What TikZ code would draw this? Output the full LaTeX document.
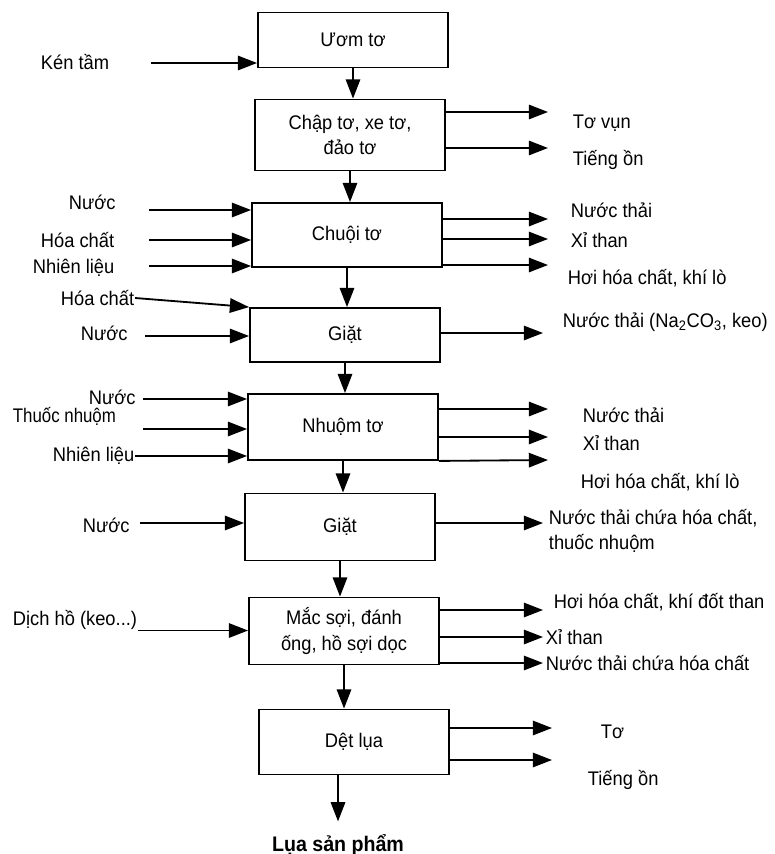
\documentclass[tikz,border=0pt]{standalone}
\usepackage{fontspec}
\setmainfont{Liberation Sans}[FakeStretch=0.93]
\usetikzlibrary{arrows.meta,positioning}
\tikzset{font=\fontsize{14}{18}\selectfont}
\tikzstyle{proc}=[draw,line width=1.3pt,minimum width=4.75cm,align=center,inner sep=2pt]
\tikzstyle{lbl}=[anchor=west,inner sep=0pt,align=left]

\begin{document}
\begin{tikzpicture}[x=0.025cm,y=-0.025cm,line width=1.3pt,>={Triangle[length=0.48cm,width=0.36cm]}]
\useasboundingbox (0,0) rectangle (775,854);

% cac cong doan
\node[proc,minimum height=1.375cm] (B1) at (353,40) {Ươm tơ};
\node[proc,minimum height=1.775cm] (B2) at (350,135) {Chập tơ, xe tơ,\\đảo tơ};
\node[proc,minimum height=1.6cm] (B3) at (347,235) {Chuội tơ};
\node[proc,minimum height=1.35cm] (B4) at (345,335) {Giặt};
\node[proc,minimum height=1.65cm] (B5) at (343,427) {Nhuộm tơ};
\node[proc,minimum height=1.675cm] (B6) at (340,527) {Giặt};
\node[proc,minimum height=1.675cm] (B7) at (344,631) {Mắc sợi, đánh\\ống, hồ sợi dọc};
\node[proc,minimum height=1.625cm] (B8) at (354,742) {Dệt lụa};
\node[font=\fontsize{15}{18}\selectfont\bfseries,inner sep=0pt] (lua) at (338,845) {Lụa sản phẩm};

% dau vao
\node[lbl] (ken) at (40,62) {Kén tầm};
\node[lbl] (nuoc3) at (68,202) {Nước};
\node[lbl] (hc3) at (40,240) {Hóa chất};
\node[lbl] (nl3) at (32,268) {Nhiên liệu};
\node[lbl] (hc4) at (60,298) {Hóa chất};
\node[lbl] (nuoc4) at (80,333) {Nước};
\node[lbl] (nuoc5) at (88,397) {Nước};
\node[lbl] (tn5) at (12,416) {\scalebox{0.92}[1]{Thuốc nhuộm}};
\node[lbl] (nl5) at (52,456) {Nhiên liệu};
\node[lbl] (nuoc6) at (82,525) {Nước};
\node[lbl] (dich) at (12,620) {Dịch hồ (keo...)};

\coordinate (i1) at (151,63);
\coordinate (i3a) at (149,210);
\coordinate (i3b) at (149,240);
\coordinate (i3c) at (149,266);
\coordinate (i4) at (145,336);
\coordinate (i5a) at (143,399);
\coordinate (i5b) at (143,429);
\coordinate (i6) at (140,523);

% dau ra
\node[lbl] (vun) at (572,123) {Tơ vụn};
\node[lbl] (on2) at (572,160) {Tiếng ồn};
\node[lbl] (nt3) at (570,210) {Nước thải};
\node[lbl] (xi3) at (570,240) {Xỉ than};
\node[lbl] (hoi3) at (567,278) {Hơi hóa chất, khí lò};
\node[lbl] (nt4) at (562,322) {Nước thải (Na\textsubscript{2}CO\textsubscript{3}, keo)};
\node[lbl] (nt5) at (582,415) {Nước thải};
\node[lbl] (xi5) at (582,443) {Xỉ than};
\node[lbl] (hoi5) at (580,482) {Hơi hóa chất, khí lò};
\node[lbl] (nt6) at (548,531) {Nước thải chứa hóa chất,\\thuốc nhuộm};
\node[lbl] (hoi7) at (553,602) {Hơi hóa chất, khí đốt than};
\node[lbl] (xi7) at (545,637) {Xỉ than};
\node[lbl] (nt7) at (545,663) {Nước thải chứa hóa chất};
\node[lbl] (to8) at (600,732) {Tơ};
\node[lbl] (on8) at (587,780) {Tiếng ồn};

\coordinate (o2a) at (548,112);
\coordinate (o2b) at (548,148);
\coordinate (o3a) at (548,219);
\coordinate (o3b) at (548,239);
\coordinate (o3c) at (548,265);
\coordinate (o4) at (543,333);
\coordinate (o5a) at (548,409);
\coordinate (o5b) at (548,437);
\coordinate (o5c) at (548,460);
\coordinate (o6) at (543,523);
\coordinate (o7a) at (543,610);
\coordinate (o7b) at (543,637);
\coordinate (o7c) at (543,663);
\coordinate (o8a) at (552,728);
\coordinate (o8b) at (552,760);

% dong chinh
\path[->]
(B1.south) edge (B1.south |- B2.north)
(B2.south) edge (B2.south |- B3.north)
(B3.south) edge (B3.south |- B4.north)
(B4.south) edge (B4.south |- B5.north)
(B5.south) edge (B5.south |- B6.north)
(B6.south) edge (B6.south |- B7.north)
(B7.south) edge (B7.south |- B8.north)
(B8.south -| lua) edge[shorten >=0.3cm] (lua.north);

% mui ten vao
\path[->]
(i1) edge (i1 -| B1.west)
(i3a) edge (i3a -| B3.west)
(i3b) edge (i3b -| B3.west)
(i3c) edge (i3c -| B3.west)
(hc4.east) edge (B4.north west)
(i4) edge (i4 -| B4.west)
(i5a) edge (i5a -| B5.west)
(i5b) edge (i5b -| B5.west)
(nl5.east) edge (nl5.east -| B5.west)
(i6) edge (i6 -| B6.west)
(dich.south east) edge (dich.south east -| B7.west);

% mui ten ra
\path[->]
(B2.east |- o2a) edge (o2a)
(B2.east |- o2b) edge (o2b)
(B3.east |- o3a) edge (o3a)
(B3.east |- o3b) edge (o3b)
(B3.east |- o3c) edge (o3c)
(B4.east |- o4) edge (o4)
(B5.east |- o5a) edge (o5a)
(B5.east |- o5b) edge (o5b)
(B5.south east) edge (o5c)
(B6.east |- o6) edge (o6)
(B7.east |- o7a) edge (o7a)
(B7.east |- o7b) edge (o7b)
(B7.east |- o7c) edge (o7c)
(B8.east |- o8a) edge (o8a)
(B8.east |- o8b) edge (o8b);
\end{tikzpicture}
\end{document}
